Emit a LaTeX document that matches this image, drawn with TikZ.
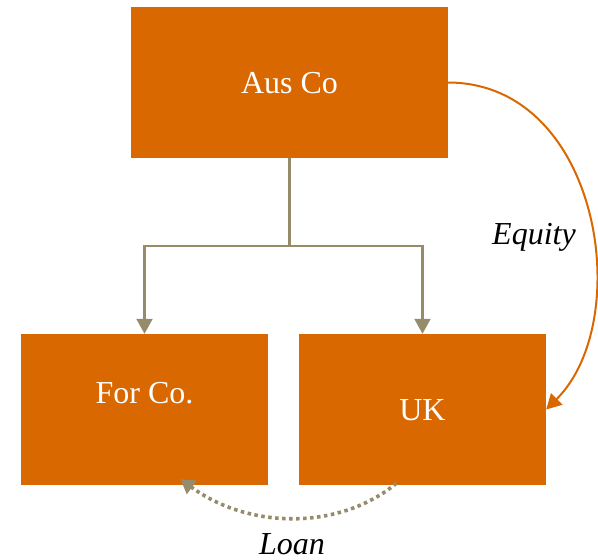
\documentclass[tikz,border=0pt]{standalone}
\usepackage{fontspec}
\setmainfont{Liberation Serif}
\usetikzlibrary{arrows.meta}

\definecolor{boxorange}{RGB}{218,104,0}
\definecolor{linktan}{RGB}{150,140,108}

\begin{document}
\begin{tikzpicture}[x=1pt, y=-1pt,
    company/.style={fill=boxorange, text=white, minimum height=151pt,
        text height=21pt, text depth=0pt, inner sep=0pt,
        font=\fontsize{32}{38}\selectfont},
    tree/.style={linktan, line width=2.2pt, -{Triangle[width=16pt,length=15pt]}},
    equity/.style={boxorange, line width=2pt, -{Triangle[width=16pt,length=15pt]}},
    loan/.style={linktan, line width=3.6pt, dash pattern=on 3.5pt off 3.5pt,
        -{Triangle[width=16pt,length=14pt]}},
    flowlabel/.style={inner sep=0pt, font=\fontsize{32}{38}\selectfont\itshape}]
            \useasboundingbox (0,0) rectangle (598,560);

            \node[company, minimum width=317pt] (ausco) at (289.5,82.5) {Aus Co};
            \node[company, minimum width=247pt, text depth=34pt] (forco) at (144.5,409.5) {For Co.};
            \node[company, minimum width=247pt] (uk) at (422.5,409.5) {UK};

            \draw[tree] (ausco.south) -- ++(0,88) -| (forco.north);
            \draw[tree] (ausco.south) -- ++(0,88) -| (uk.north);

            \draw[equity] (ausco.east) .. controls (600,83) and (636,320) .. (uk.east);
            \draw[loan] ([xshift=-26pt,yshift=2pt]uk.south) .. controls (340,530) and (250,530) .. ([xshift=36pt,yshift=6pt]forco.south);

            \node[flowlabel] (equitylabel) at (534,237) {Equity};
            \node[flowlabel] (loanlabel) at (292,544) {Loan};
        \end{tikzpicture}
\end{document}
